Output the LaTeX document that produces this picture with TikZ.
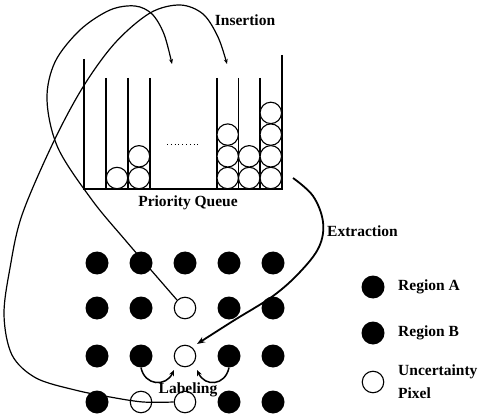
\documentclass[tikz,border=0pt]{standalone}
\usepackage{fontspec}
\setmainfont{Liberation Serif}
\usetikzlibrary{arrows.meta}
\begin{document}
\begin{tikzpicture}[x=1pt,y=-1pt,
  wall/.style={line width=1.5pt},
  qball/.style={circle,draw,line width=1.1pt,fill=white,minimum size=21.4pt,inner sep=0pt},
  blk/.style={circle,fill=black,minimum size=23pt,inner sep=0pt},
  wht/.style={circle,draw,line width=1.1pt,fill=white,minimum size=21.5pt,inner sep=0pt},
  lbl/.style={font=\fontsize{15.5}{17}\selectfont\bfseries,inner sep=0pt},
  ins/.style={line width=1.2pt,-{Stealth[length=5pt,width=4pt]}},
  ext/.style={line width=1.8pt,-{Stealth[length=8pt,width=6pt]}},
  lab/.style={line width=1.5pt,-{Stealth[length=6pt,width=5pt]}}
]
\useasboundingbox (0,0) rectangle (481,419);

% ---- priority queue ----
\draw[wall] (84,59) -- (84,189.5);
\draw[wall] (282,55) -- (282,189.5);
\draw[line width=2pt] (83.3,189.5) -- (282.7,189.5);
\foreach \x in {106,128,150,217,238.5,260}
  \draw[wall] (\x,78) -- (\x,189);
\draw[line width=0.8pt, dash pattern=on 0.8pt off 3pt] (167,144) -- (199,144);
% balls
\node[qball] (b1) at (117,178) {};
\node[qball] (b2) at (139,178) {};
\node[qball] (b3) at (139,156.3) {};
\foreach \n/\x/\y in {r1/227.7/178, r2/227.7/156.3, r3/227.7/134.6,
                      r4/249.2/178, r5/249.2/156.3,
                      r6/270.8/178, r7/270.8/156.3, r8/270.8/134.6, r9/270.8/112.9}
  \node[qball] (\n) at (\x,\y) {};

% ---- pixel grid ----
\foreach \n/\x/\y in {11/97/263, 12/141/263, 13/185/263, 14/229/263, 15/273/263,
                      21/97/308, 22/141/308, 24/229/308, 25/273/308,
                      31/97/356, 32/141/356, 34/229/356, 35/273/356,
                      41/97/402, 44/229/402, 45/273/402}
  \node[blk] (g\n) at (\x,\y) {};
\foreach \n/\x/\y in {23/185/308, 33/185/356, 42/141/402, 43/185/402}
  \node[wht] (g\n) at (\x,\y) {};

% ---- legend ----
\node[blk] (la) at (373,287) {};
\node[blk] (lb) at (373,333) {};
\node[wht] (lc) at (373,382) {};
\node[lbl,anchor=west] (ta) at (398,287) {Region A};
\node[lbl,anchor=west] (tb) at (398,333) {Region B};
\node[lbl,anchor=west] (tc) at (398,372) {Uncertainty};
\node[lbl,anchor=west] (td) at (398,393) {Pixel};

% ---- labels ----
\node[lbl] (tins) at (245,20) {Insertion};
\node[lbl] (tpq) at (188,203) {Priority Queue};
\node[lbl,anchor=west] (text) at (327,231) {Extraction};

% ---- insertion curves ----
\coordinate (q1) at (172,64);
\coordinate (q2) at (227,64);
\draw[ins] plot[smooth,tension=0.55] coordinates {(g23.135) (126,241) (92,200) (58,148) (47,100) (55,62) (80,30) (110,10) (135,6) (152,14) (164,34) (q1)};
\draw[ins] plot[smooth,tension=0.55] coordinates {(g43.west) (143,402) (110,397) (75,390) (36,378) (12,355) (4,315) (10,268) (22,215) (53,143) (83,87) (115,43) (150,13) (180,5) (203,14) (218,37) (q2)};

% ---- extraction ----
\coordinate (e0) at (293,178);
\coordinate (e1) at (197,344);
\draw[ext] plot[smooth,tension=0.6] coordinates {(e0) (313,196) (323,222) (319,247) (300,272) (273,296) (233,321) (e1)};

% ---- labeling ----
\coordinate (l1) at (174,370);
\coordinate (l2) at (197,370);
\draw[lab] (g32.south) .. controls (145,386) and (166,387) .. (l1);
\draw[lab] (g34.south) .. controls (225,386) and (205,387) .. (l2);
\node[lbl] (tlab) at (188,390) {Labeling};
\end{tikzpicture}
\end{document}
